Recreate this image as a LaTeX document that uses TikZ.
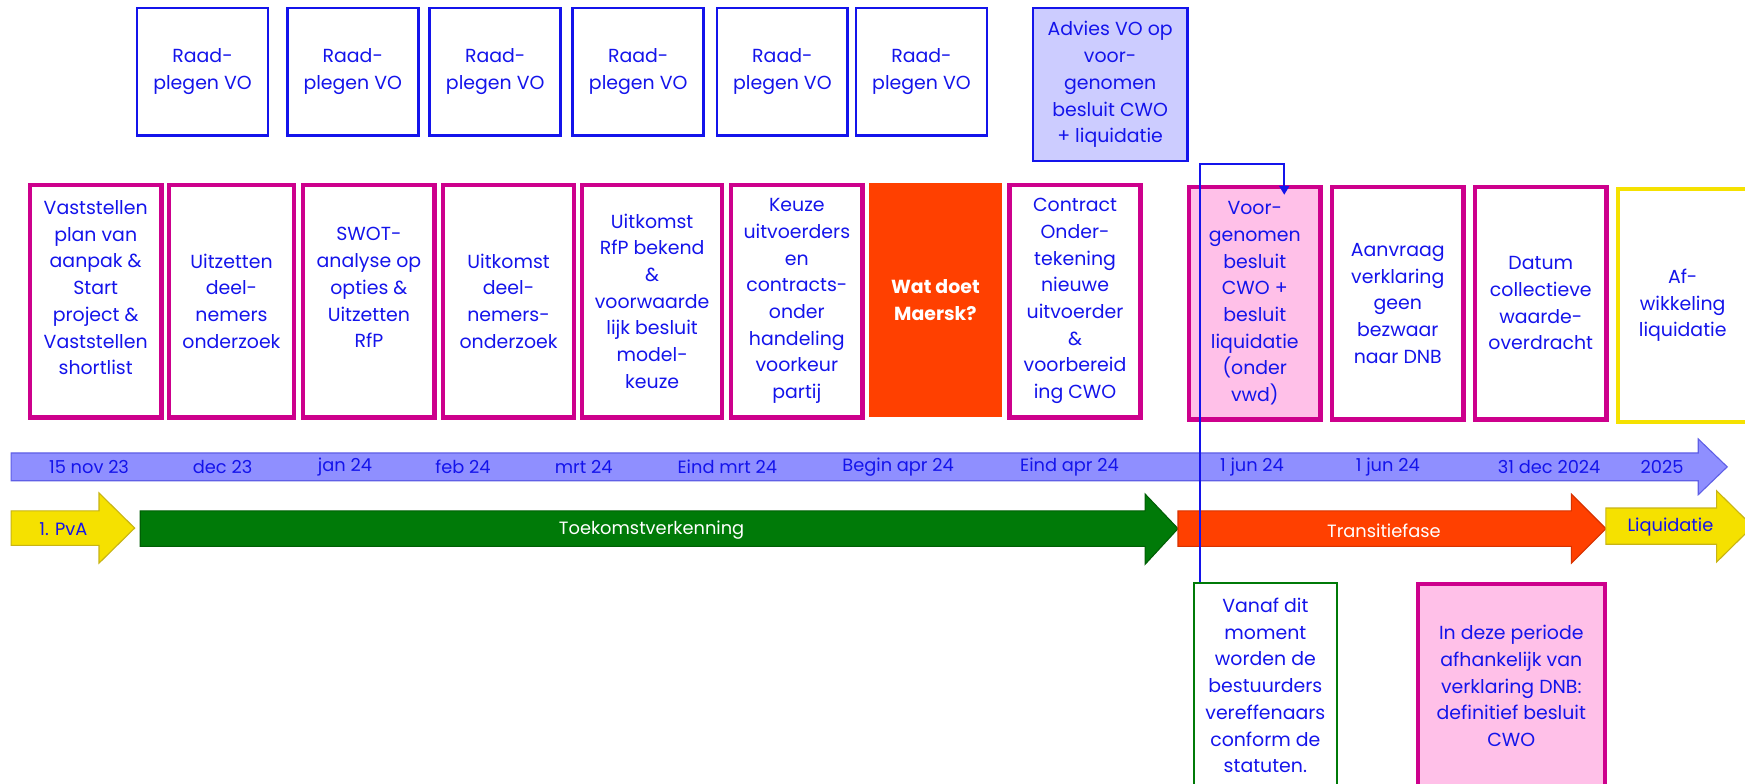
\documentclass[tikz,border=0pt]{standalone}
\usepackage{fontspec}
\setmainfont{Poppins}
\usetikzlibrary{positioning}
\usetikzlibrary{arrows.meta}
\definecolor{vblue}{RGB}{20,20,235}
\definecolor{vomag}{RGB}{205,0,140}
\definecolor{vopink}{RGB}{255,192,232}
\definecolor{lavender}{RGB}{204,204,255}
\definecolor{maersk}{RGB}{255,64,0}
\definecolor{maerskline}{RGB}{215,50,0}
\definecolor{tlblue}{RGB}{143,143,255}
\definecolor{tlline}{RGB}{95,95,230}
\definecolor{pvayellow}{RGB}{245,225,0}
\definecolor{pvaline}{RGB}{200,180,20}
\definecolor{tkgreen}{RGB}{0,122,8}
\definecolor{tkline}{RGB}{0,95,5}
\tikzset{edge/.style = {->,> = {Triangle[length=8pt,width=9pt]}, draw=vblue, line width=1.8pt}}

\begin{document}
\begin{tikzpicture}[x=1pt,y=-1pt,
    every node/.style={font=\fontsize{17}{24}\selectfont, text=vblue, align=center, inner sep=0pt},
    vo node/.style={draw=vblue, line width=2.4pt, minimum width=117.6pt, minimum height=114.6pt},
    step node/.style={draw=vomag, line width=4pt, minimum width=118pt, minimum height=209pt},
    date node/.style={font=\fontsize{16}{20}\selectfont},
    phase node/.style={font=\fontsize{16}{20}\selectfont}]
  \useasboundingbox[fill=white] (0,0) rectangle (1568,704);

  % tijdlijn
  \draw[fill=tlblue, draw=tlline, line width=1pt] (10,407) -- (1526,407) -- (1526,394.5) -- (1552,419.5)
    -- (1526,444.5) -- (1526,432) -- (10,432) -- cycle;
  \foreach \x/\t [count=\i] in {80/15 nov 23, 200/dec 23, 310/jan 24, 416/feb 24, 524.5/mrt 24,
      653.5/Eind mrt 24, 807/Begin apr 24, 961/Eind apr 24, 1125/1 jun 24, 1247/1 jun 24,
      1392/31 dec 2024, 1493.5/2025}
    \node[date node] (date\i) at (\x,419.5) {\t};

  % fasen
  \draw[fill=pvayellow, draw=pvaline, line width=1pt] (10,459) -- (89,459) -- (89,443) -- (121,474.5)
    -- (89,506) -- (89,490) -- (10,490) -- cycle;
  \draw[fill=tkgreen, draw=tkline, line width=1pt] (126,459) -- (1029,459) -- (1029,444) -- (1058.5,475)
    -- (1029,507) -- (1029,491) -- (126,491) -- cycle;
  \draw[fill=maersk, draw=maerskline, line width=1pt] (1058.5,459) -- (1412,459) -- (1412,444) -- (1443,475)
    -- (1412,506) -- (1412,491) -- (1058.5,491) -- cycle;
  \draw[fill=pvayellow, draw=pvaline, line width=1pt] (1443,456.5) -- (1542.5,456.5) -- (1542.5,441) -- (1575,473)
    -- (1542.5,505) -- (1542.5,489) -- (1443,489) -- cycle;
  \node[phase node] (pva) at (57,475) {1. PvA};
  \node[phase node, text=white] (toekomst) at (585.5,476) {Toekomstverkenning};
  \node[phase node, text=white] (transitie) at (1243.5,477) {Transitiefase};
  \node[phase node] (liquidatie) at (1501,473.5) {Liquidatie};

  % raadplegen VO
  \node[vo node] (vo1) at (182,64.5) {Raad-\\plegen VO};
  \node[vo node] (vo2) at (317,64.5) {Raad-\\plegen VO};
  \node[vo node] (vo3) at (445,64.5) {Raad-\\plegen VO};
  \node[vo node] (vo4) at (573.5,64.5) {Raad-\\plegen VO};
  \node[vo node] (vo5) at (703,64.5) {Raad-\\plegen VO};
  \node[vo node] (vo6) at (828,64.5) {Raad-\\plegen VO};
  \node[vo node, fill=lavender, minimum width=138.6pt, minimum height=137.6pt] (advies) at (997.5,76)
    {Advies VO op\\voor-\\genomen\\besluit CWO\\+ liquidatie};

  % stappen
  \node[step node] (s1) at (86,270.5) {Vaststellen\\plan van\\aanpak \&\\Start\\project \&\\Vaststellen\\shortlist\\~};
  \node[step node, minimum width=112pt] (s2) at (208,270.5) {Uitzetten\\deel-\\nemers\\onderzoek};
  \node[step node] (s3) at (331.5,270.5) {SWOT-\\analyse op\\opties \&\\Uitzetten\\RfP\\~};
  \node[step node] (s4) at (457,270.5) {Uitkomst\\deel-\\nemers-\\onderzoek};
  \node[step node, minimum width=126pt] (s5) at (586,270.5) {Uitkomst\\RfP bekend\\\&\\voorwaarde\\lijk besluit\\model-\\keuze};
  \node[step node] (s6) at (716,270.5) {Keuze\\uitvoerders\\en\\contracts-\\onder\\handeling\\voorkeur\\partij};
  \node[fill=maersk, minimum width=119pt, minimum height=211pt, text=white, font=\fontsize{17}{24}\selectfont\bfseries] (maersk) at (840.5,269.5)
    {Wat doet\\Maersk?};
  \node[step node] (s8) at (966,270.5) {Contract\\Onder-\\tekening\\nieuwe\\uitvoerder\\\&\\voorbereid\\ing CWO};
  \node[step node, fill=vopink] (voor) at (1127.5,272.5) {Voor-\\genomen\\besluit\\CWO +\\besluit\\liquidatie\\(onder\\vwd)};
  \node[step node] (s10) at (1256,272.5) {Aanvraag\\verklaring\\geen\\bezwaar\\naar DNB};
  \node[step node] (s11) at (1384.5,272.5) {Datum\\collectieve\\waarde-\\overdracht};
  \node[step node, draw=pvayellow, minimum width=116pt] (afw) at (1512,274.5) {Af-\\wikkeling\\liquidatie};

  % toelichting
  \node[draw=tkgreen, line width=1.5pt, minimum width=128.5pt, minimum height=184pt] (vanaf) at (1137,616)
    {Vanaf dit\\moment\\worden de\\bestuurders\\vereffenaars\\conform de\\statuten.};
  \node[step node, fill=vopink, minimum width=168pt, minimum height=183pt] (periode) at (1358,616.5)
    {In deze periode\\afhankelijk van\\verklaring DNB:\\definitief besluit\\CWO};

  \draw[edge] ([xshift=6pt]vanaf.north west) -- ++(0,-375.5) -| ([xshift=26.5pt,yshift=-9pt]voor.north);
\end{tikzpicture}
\end{document}
